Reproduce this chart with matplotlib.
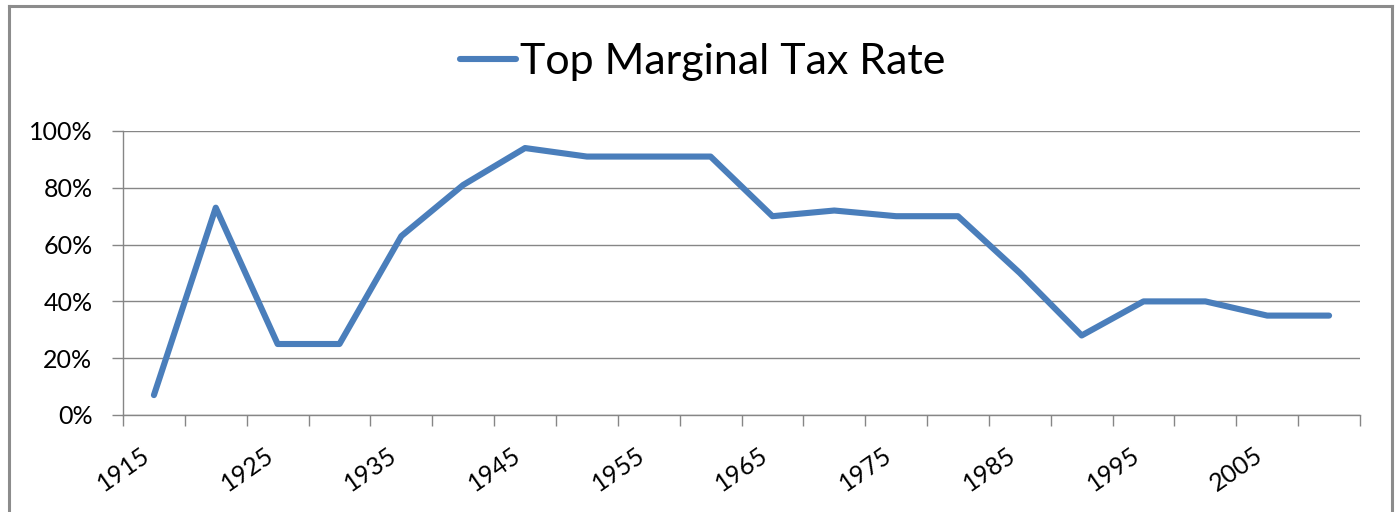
import matplotlib
matplotlib.use("Agg")
import matplotlib.pyplot as plt
from matplotlib.lines import Line2D
import numpy as np

years = [1915, 1920, 1925, 1930, 1935, 1940, 1945, 1950, 1955, 1960,
         1965, 1970, 1975, 1980, 1985, 1990, 1995, 2000, 2005, 2010]
top_rate = [0.07, 0.73, 0.25, 0.25, 0.63, 0.81, 0.94, 0.91, 0.91, 0.91,
            0.70, 0.72, 0.70, 0.70, 0.50, 0.28, 0.40, 0.40, 0.35, 0.35]
series_name = "Top Marginal Tax Rate"
y_ticks = [0.0, 0.2, 0.4, 0.6, 0.8, 1.0]
y_labels = ["0%", "20%", "40%", "60%", "80%", "100%"]

plt.rcParams['font.family'] = ['Lato', 'DejaVu Sans']

W, H = 1395, 512
fig = plt.figure(figsize=(W / 100, H / 100), dpi=100)
ax = fig.add_axes([123 / W, 1 - 415 / H, (1360 - 123) / W, (415 - 131) / H])

gray = '#868686'
blue = '#4A7EBB'
x = np.arange(len(years))
line, = ax.plot(x, top_rate, color=blue, lw=4.4, solid_capstyle='round',
                solid_joinstyle='round', label=series_name, zorder=3)

ax.set_xlim(-0.5, len(years) - 0.5)
ax.set_ylim(0, 1)
ax.set_yticks(y_ticks)
ax.set_yticklabels(y_labels)
ax.grid(axis='y', color=gray, lw=1.0)
ax.set_axisbelow(True)

# category boundary tick marks
ax.set_xticks(np.arange(-0.5, len(years), 1.0), minor=True)
ax.set_xticks(x[::2])
ax.set_xticklabels([str(y) for y in years[::2]], rotation=35, ha='right', va='top')
ax.tick_params(axis='x', which='minor', length=8, width=1.0, color=gray, direction='out')
ax.tick_params(axis='x', which='major', length=0, pad=20, labelsize=18, labelcolor='black')
ax.tick_params(axis='y', which='major', length=8, width=1.0, color=gray, direction='out',
               pad=14, labelsize=18, labelcolor='black')

for s in ['top', 'right']:
    ax.spines[s].set_visible(False)
for s in ['left', 'bottom']:
    ax.spines[s].set_color(gray)
    ax.spines[s].set_linewidth(1.0)

leg = fig.legend(handles=[line], loc='center', bbox_to_anchor=(703 / W, 1 - 62 / H),
                 frameon=False, fontsize=31, handlelength=1.3, handletextpad=0.1)

# chart border
bc = '#8C8C8C'
fig.add_artist(Line2D([9 / W, 9 / W], [0, 1 - 6 / H], color=bc, lw=2.2, transform=fig.transFigure))
fig.add_artist(Line2D([1392 / W, 1392 / W], [0, 1 - 6 / H], color=bc, lw=2.2, transform=fig.transFigure))
fig.add_artist(Line2D([9 / W, 1392 / W], [1 - 6 / H, 1 - 6 / H], color=bc, lw=2.2, transform=fig.transFigure))

fig.savefig("out.png", dpi=100)
